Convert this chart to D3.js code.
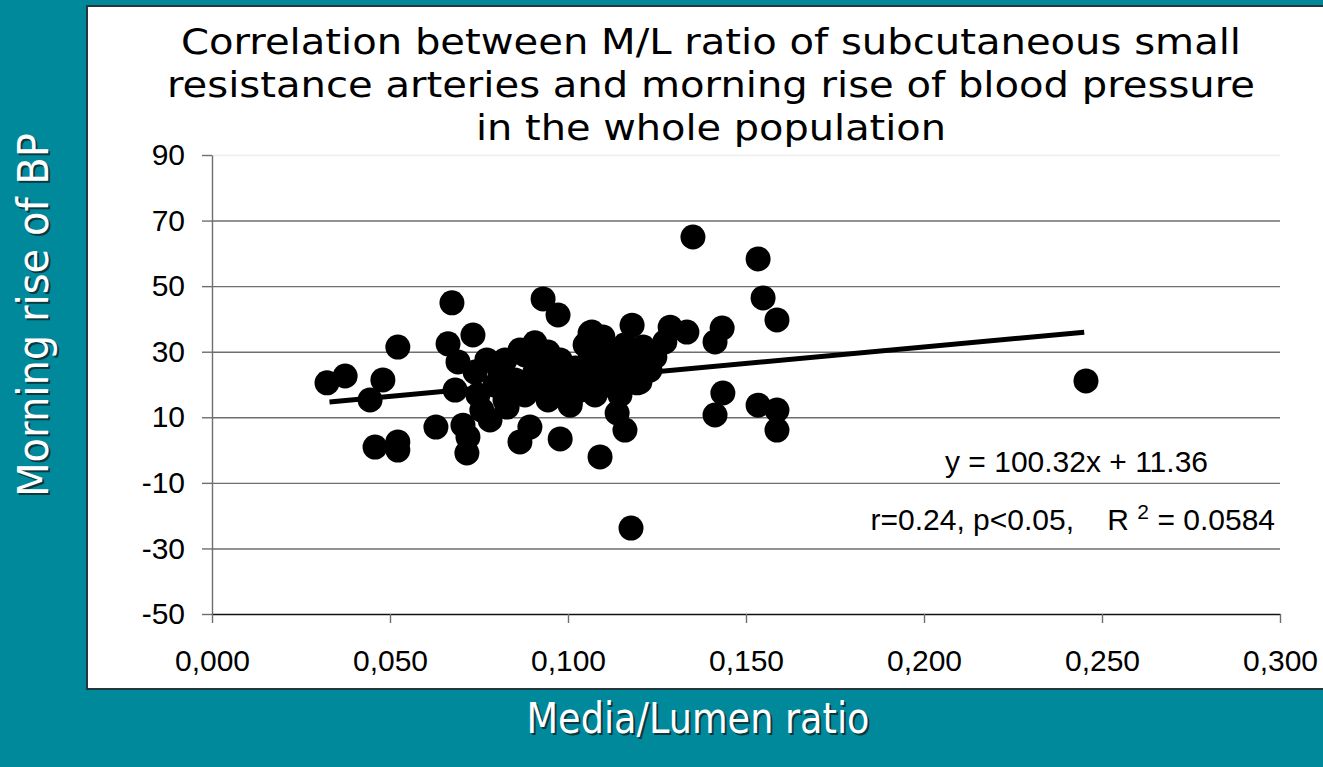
<!DOCTYPE html>
<html>
<head>
<meta charset="utf-8">
<script src="https://cdn.jsdelivr.net/npm/d3@7"></script>
<style>
  html, body { margin: 0; padding: 0; background: #00889b; overflow: hidden; }
  svg { display: block; }
</style>
</head>
<body>
<svg id="chart" width="1323" height="767"></svg>
<script>
// media/lumen ratio of each subject
const mlRatio = [
  0.0323, 0.0374, 0.0444, 0.0480, 0.0522, 0.0458, 0.0522, 0.0522, 0.0629, 0.0674,
  0.0663, 0.0691, 0.0683, 0.0705, 0.0719, 0.0716, 0.0930, 0.0972, 0.0733, 0.0772,
  0.0865, 0.0907, 0.1062, 0.1180, 0.1098, 0.1211, 0.0893, 0.0865, 0.0978, 0.1090,
  0.1138, 0.1160, 0.1287, 0.1067, 0.1211, 0.1194, 0.1140, 0.1006, 0.1351, 0.1534,
  0.1548, 0.1587, 0.1334, 0.1433, 0.1413, 0.2455, 0.1435, 0.1413, 0.1534, 0.1587,
  0.1587, 0.1272, 0.0781, 0.0829, 0.0739, 0.0747, 0.0758, 0.0795, 0.0809, 0.0823,
  0.0837, 0.0851, 0.0879, 0.0907, 0.0921, 0.0935, 0.0944, 0.0963, 0.0978, 0.0983,
  0.1000, 0.1006, 0.1020, 0.1034, 0.1048, 0.1062, 0.1076, 0.1090, 0.1104, 0.1124,
  0.1132, 0.1146, 0.1169, 0.1188, 0.1202, 0.1230, 0.1244, 0.0823, 0.0879, 0.0944,
  0.1048, 0.1118, 0.1160, 0.1177
];
// morning rise of BP, same order
const morningRise = [
  20.5, 22.6, 15.3, 21.4, 31.4, 0.9, 2.5, 0.0, 7.0, 44.9,
  32.4, 26.9, 18.3, 7.6, 4.0, -0.9, 46.1, 41.2, 35.1, 27.5,
  30.5, 32.7, 35.7, 38.1, 34.5, 31.4, 7.0, 2.5, 3.4, -2.1,
  11.3, 6.1, 37.5, 36.0, 29.9, 20.5, 18.3, 14.4, 65.0, 58.3,
  46.4, 39.7, 36.0, 37.2, 33.0, 21.1, 17.4, 10.7, 13.7, 12.2,
  6.1, 33.0, 9.2, 13.1, 23.8, 16.8, 12.2, 19.8, 23.8, 15.3,
  18.3, 21.4, 16.8, 23.8, 26.0, 19.8, 15.3, 22.9, 27.5, 17.7,
  20.8, 13.7, 25.0, 18.3, 22.0, 28.1, 16.8, 24.4, 19.8, 26.9,
  22.0, 16.8, 24.4, 27.5, 20.8, 24.4, 28.4, 27.5, 29.0, 29.9,
  32.1, 30.5, 32.1, -23.8
];
const xTicks = [0, 0.05, 0.1, 0.15, 0.2, 0.25, 0.3];
const yTicks = [-50, -30, -10, 10, 30, 50, 70, 90];
const trendCoef = [100.32, 11.36];      // slope, intercept
const trendExtent = [0.033, 0.245];
const titleLines = [
  "Correlation between M/L ratio of subcutaneous small",
  "resistance arteries and morning rise of blood pressure",
  "in the whole population"
];

const svg = d3.select("#chart");
const W = 1323, H = 767;

let margin = { top: 155, right: 43, bottom: 153, left: 212 },
    width = W - margin.left - margin.right,
    height = H - margin.top - margin.bottom;

let x = d3.scaleLinear().domain([0, 0.3]).range([0, width]);
let y = d3.scaleLinear().domain([-50, 90]).range([height, 0]);

const comma = d3.formatLocale({ decimal: ",", thousands: ".", grouping: [3], currency: ["", ""] }).format(".3f");

// white panel
svg.append("rect")
    .attr("x", 87).attr("y", 6)
    .attr("width", 1250).attr("height", 683)
    .attr("fill", "#fff")
    .attr("stroke", "#24373c")
    .attr("stroke-width", 2);

// title
svg.append("g").selectAll("text")
    .data(titleLines)
    .join("text")
    .attr("x", 711)
    .attr("y", (d, i) => 54 + i * 43)
    .attr("text-anchor", "middle")
    .attr("font-family", "DejaVu Sans, Verdana, sans-serif")
    .attr("font-size", 35)
    .attr("fill", "#000")
    .attr("textLength", (d, i) => [1060, 1088, 470][i])
    .attr("lengthAdjust", "spacingAndGlyphs")
    .text(d => d);

const g = svg.append("g").attr("transform", `translate(${margin.left},${margin.top})`);

// grid lines
g.append("g")
    .call(d3.axisLeft(y).tickValues(yTicks.filter(v => v > -50)).tickSize(-width).tickFormat(""))
    .call(s => s.select(".domain").remove())
    .selectAll("line")
    .attr("stroke", d => d === 90 ? "#eeeeee" : "#6e6e6e")
    .attr("stroke-width", 1.4);

// y axis (plain hyphen minus like the original)
g.append("g")
    .call(d3.axisLeft(y).tickValues(yTicks).tickFormat(d => String(d)).tickSize(10).tickPadding(17).tickSizeOuter(0))
    .call(s => s.select(".domain").attr("stroke", "#6e6e6e").attr("stroke-width", 1.4))
    .call(s => s.selectAll("line").attr("stroke", "#6e6e6e").attr("stroke-width", 1.4))
    .selectAll("text")
    .attr("font-family", "Liberation Sans, Arial, sans-serif")
    .attr("font-size", 30)
    .attr("fill", "#000");

// x axis
g.append("g")
    .attr("transform", `translate(0,${height})`)
    .call(d3.axisBottom(x).tickValues(xTicks).tickFormat(comma).tickSize(9).tickPadding(27).tickSizeOuter(0))
    .call(s => s.select(".domain").attr("stroke", "#111").attr("stroke-width", 1.6))
    .call(s => s.selectAll("line").attr("stroke", "#6e6e6e").attr("stroke-width", 1.4))
    .selectAll("text")
    .attr("font-family", "Liberation Sans, Arial, sans-serif")
    .attr("font-size", 30)
    .attr("fill", "#000");

// points
g.append("g").selectAll("circle")
    .data(mlRatio.map((v, i) => [v, morningRise[i]]))
    .join("circle")
    .attr("cx", d => x(d[0]))
    .attr("cy", d => y(d[1]))
    .attr("r", 12.5)
    .attr("fill", "#000");

// regression line
g.append("line")
    .attr("x1", x(trendExtent[0]))
    .attr("y1", y(trendCoef[0] * trendExtent[0] + trendCoef[1]))
    .attr("x2", x(trendExtent[1]))
    .attr("y2", y(trendCoef[0] * trendExtent[1] + trendCoef[1]))
    .attr("stroke", "#000")
    .attr("stroke-width", 5);

// equation text
svg.append("text")
    .attr("x", 1208).attr("y", 472)
    .attr("text-anchor", "end")
    .attr("font-family", "Liberation Sans, Arial, sans-serif")
    .attr("font-size", 30)
    .text(`y = ${trendCoef[0]}x + ${trendCoef[1]}`);

const stat = svg.append("text")
    .attr("x", 1275).attr("y", 530)
    .attr("text-anchor", "end")
    .attr("font-family", "Liberation Sans, Arial, sans-serif")
    .attr("font-size", 30)
    .attr("xml:space", "preserve");
stat.append("tspan").text("r=0.24, p<0.05,    R ");
stat.append("tspan").attr("font-size", 21).attr("dy", -11).text("2");
stat.append("tspan").attr("dy", 11).text(" = 0.0584");

// axis titles with shadow
function shadowText(tx, ty, rot, str, len) {
  [["#0b3940", 2], ["#ffffff", 0]].forEach(([c, o]) => {
    svg.append("text")
        .attr("transform", `translate(${tx + o},${ty + o}) rotate(${rot})`)
        .attr("text-anchor", "middle")
        .attr("font-family", "DejaVu Sans, Verdana, sans-serif")
        .attr("font-size", 42)
        .attr("fill", c)
        .attr("textLength", len)
        .attr("lengthAdjust", "spacingAndGlyphs")
        .text(str);
  });
}
shadowText(48, 315, -90, "Morning rise of BP", 364);
shadowText(698, 733, 0, "Media/Lumen ratio", 343);
</script>
</body>
</html>
